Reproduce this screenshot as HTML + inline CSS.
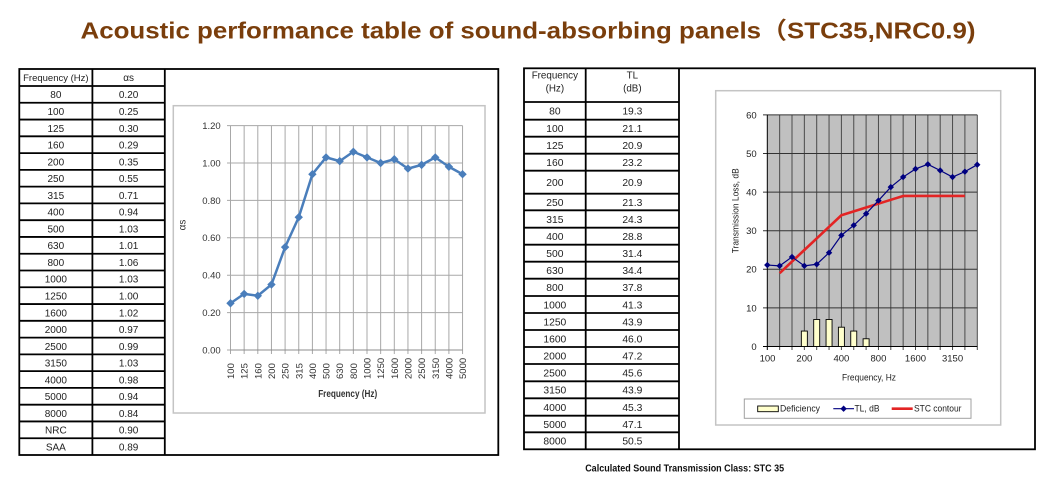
<!DOCTYPE html>
<html><head><meta charset="utf-8"><style>html,body{margin:0;padding:0;background:#fff}svg{display:block}</style></head>
<body>
<svg width="1058" height="483" viewBox="0 0 1058 483" xmlns="http://www.w3.org/2000/svg" font-family="'Liberation Sans','Noto Sans CJK SC',sans-serif">
<defs>
<marker id="d1" viewBox="-5 -5 10 10" markerWidth="10" markerHeight="10" refX="0" refY="0" markerUnits="userSpaceOnUse"><path d="M0,-4.2 L4.2,0 0,4.2 -4.2,0Z" fill="#4a7ebb"/></marker>
<marker id="d2" viewBox="-4 -4 8 8" markerWidth="8" markerHeight="8" refX="0" refY="0" markerUnits="userSpaceOnUse"><path d="M0,-3.2 L3.2,0 0,3.2 -3.2,0Z" fill="#000080"/></marker>
</defs>
<rect width="1058" height="483" fill="#fff"/>
<text x="80.5" y="38.3" font-size="23.5" font-weight="bold" fill="#7a3e0c" textLength="895" lengthAdjust="spacingAndGlyphs">Acoustic performance table of sound-absorbing panels（STC35,NRC0.9)</text>

<!-- LEFT TABLE -->
<g stroke="#000" stroke-width="1.8" fill="none">
<rect x="19.3" y="69" width="479" height="386"/>
<line x1="92.4" y1="69" x2="92.4" y2="455"/>
<line x1="164.8" y1="69" x2="164.8" y2="455"/>
<path d="M19.3 86H164.8M19.3 102.77H164.8M19.3 119.55H164.8M19.3 136.32H164.8M19.3 153.09H164.8M19.3 169.86H164.8M19.3 186.64H164.8M19.3 203.41H164.8M19.3 220.18H164.8M19.3 236.95H164.8M19.3 253.73H164.8M19.3 270.5H164.8M19.3 287.27H164.8M19.3 304.05H164.8M19.3 320.82H164.8M19.3 337.59H164.8M19.3 354.36H164.8M19.3 371.14H164.8M19.3 387.91H164.8M19.3 404.68H164.8M19.3 421.45H164.8M19.3 438.23H164.8"/>
</g>
<g font-size="10" fill="#222" text-anchor="middle">
<text x="55.85" y="81.1" font-size="9.5">Frequency (Hz)</text><text x="128.6" y="81.1">αs</text>
<text x="55.85" y="98.2">80</text><text x="128.6" y="98.2">0.20</text>
<text x="55.85" y="114.97">100</text><text x="128.6" y="114.97">0.25</text>
<text x="55.85" y="131.75">125</text><text x="128.6" y="131.75">0.30</text>
<text x="55.85" y="148.52">160</text><text x="128.6" y="148.52">0.29</text>
<text x="55.85" y="165.29">200</text><text x="128.6" y="165.29">0.35</text>
<text x="55.85" y="182.06">250</text><text x="128.6" y="182.06">0.55</text>
<text x="55.85" y="198.84">315</text><text x="128.6" y="198.84">0.71</text>
<text x="55.85" y="215.61">400</text><text x="128.6" y="215.61">0.94</text>
<text x="55.85" y="232.38">500</text><text x="128.6" y="232.38">1.03</text>
<text x="55.85" y="249.15">630</text><text x="128.6" y="249.15">1.01</text>
<text x="55.85" y="265.93">800</text><text x="128.6" y="265.93">1.06</text>
<text x="55.85" y="282.7">1000</text><text x="128.6" y="282.7">1.03</text>
<text x="55.85" y="299.47">1250</text><text x="128.6" y="299.47">1.00</text>
<text x="55.85" y="316.25">1600</text><text x="128.6" y="316.25">1.02</text>
<text x="55.85" y="333.02">2000</text><text x="128.6" y="333.02">0.97</text>
<text x="55.85" y="349.79">2500</text><text x="128.6" y="349.79">0.99</text>
<text x="55.85" y="366.56">3150</text><text x="128.6" y="366.56">1.03</text>
<text x="55.85" y="383.34">4000</text><text x="128.6" y="383.34">0.98</text>
<text x="55.85" y="400.11">5000</text><text x="128.6" y="400.11">0.94</text>
<text x="55.85" y="416.88">8000</text><text x="128.6" y="416.88">0.84</text>
<text x="55.85" y="433.65">NRC</text><text x="128.6" y="433.65">0.90</text>
<text x="55.85" y="450.43">SAA</text><text x="128.6" y="450.43">0.89</text>
</g>

<!-- LEFT CHART -->
<rect x="173.3" y="105.7" width="311.7" height="307.3" fill="#fff" stroke="#c4c4c4" stroke-width="1.5"/>
<g stroke="#a8a8a8" stroke-width="1" fill="none">
<path d="M230.5 125.6H462.55M230.5 163H462.55M230.5 200.4H462.55M230.5 237.8H462.55M230.5 275.2H462.55M230.5 312.6H462.55M227 125.6H230.5M227 163H230.5M227 200.4H230.5M227 237.8H230.5M227 275.2H230.5M227 312.6H230.5M227 350H230.5"/>
<path d="M230.5 125.6V354M244.15 125.6V354M257.8 125.6V354M271.45 125.6V354M285.1 125.6V354M298.75 125.6V354M312.4 125.6V354M326.05 125.6V354M339.7 125.6V354M353.35 125.6V354M367 125.6V354M380.65 125.6V354M394.3 125.6V354M407.95 125.6V354M421.6 125.6V354M435.25 125.6V354M448.9 125.6V354M462.55 125.6V354"/>
<path d="M230.5 350H462.55" stroke="#8c8c8c"/>
</g>
<g font-size="9.5" fill="#333" text-anchor="end">
<text x="220.7" y="129">1.20</text>
<text x="220.7" y="166.4">1.00</text>
<text x="220.7" y="203.8">0.80</text>
<text x="220.7" y="241.2">0.60</text>
<text x="220.7" y="278.6">0.40</text>
<text x="220.7" y="316">0.20</text>
<text x="220.7" y="353.4">0.00</text>
</g>
<g font-size="9.5" fill="#333">
<text transform="translate(234,379) rotate(-90)">100</text>
<text transform="translate(247.65,379) rotate(-90)">125</text>
<text transform="translate(261.3,379) rotate(-90)">160</text>
<text transform="translate(274.95,379) rotate(-90)">200</text>
<text transform="translate(288.6,379) rotate(-90)">250</text>
<text transform="translate(302.25,379) rotate(-90)">315</text>
<text transform="translate(315.9,379) rotate(-90)">400</text>
<text transform="translate(329.55,379) rotate(-90)">500</text>
<text transform="translate(343.2,379) rotate(-90)">630</text>
<text transform="translate(356.85,379) rotate(-90)">800</text>
<text transform="translate(370.5,379) rotate(-90)">1000</text>
<text transform="translate(384.15,379) rotate(-90)">1250</text>
<text transform="translate(397.8,379) rotate(-90)">1600</text>
<text transform="translate(411.45,379) rotate(-90)">2000</text>
<text transform="translate(425.1,379) rotate(-90)">2500</text>
<text transform="translate(438.75,379) rotate(-90)">3150</text>
<text transform="translate(452.4,379) rotate(-90)">4000</text>
<text transform="translate(466.05,379) rotate(-90)">5000</text>
</g>
<text x="347.7" y="397" font-size="10" font-weight="bold" fill="#333" text-anchor="middle" textLength="59" lengthAdjust="spacingAndGlyphs">Frequency (Hz)</text>
<text transform="translate(185.5,225) rotate(-90)" font-size="10" fill="#333" text-anchor="middle">αs</text>
<polyline fill="none" stroke="#4a7ebb" stroke-width="2.5" stroke-linejoin="round" marker-start="url(#d1)" marker-mid="url(#d1)" marker-end="url(#d1)" points="230.5,303.25 244.15,293.9 257.8,295.77 271.45,284.55 285.1,247.15 298.75,217.23 312.4,174.22 326.05,157.39 339.7,161.13 353.35,151.78 367,157.39 380.65,163 394.3,159.26 407.95,168.61 421.6,164.87 435.25,157.39 448.9,166.74 462.55,174.22"/>

<!-- RIGHT TABLE -->
<g stroke="#000" stroke-width="1.8" fill="none">
<rect x="524" y="68.3" width="511" height="381"/>
<line x1="585.7" y1="68.3" x2="585.7" y2="449.3"/>
<line x1="679" y1="68.3" x2="679" y2="449.3"/>
<path d="M524 102H679M524 119.7H679M524 136.7H679M524 153.7H679M524 170.7H679M524 193.7H679M524 210.3H679M524 227.7H679M524 244.7H679M524 261.7H679M524 278.7H679M524 296H679M524 313H679M524 330H679M524 347H679M524 364H679M524 381.3H679M524 398.3H679M524 415.7H679M524 432.3H679"/>
</g>
<g font-size="10.3" fill="#222" text-anchor="middle">
<text x="554.85" y="78.5" font-size="9.8">Frequency</text><text x="554.85" y="91.7" font-size="9.8">(Hz)</text>
<text x="632.35" y="78.5" font-size="9.8">TL</text><text x="632.35" y="91.7" font-size="9.8">(dB)</text>
<text x="554.85" y="114.65">80</text><text x="632.35" y="114.65">19.3</text>
<text x="554.85" y="132">100</text><text x="632.35" y="132">21.1</text>
<text x="554.85" y="149">125</text><text x="632.35" y="149">20.9</text>
<text x="554.85" y="166">160</text><text x="632.35" y="166">23.2</text>
<text x="554.85" y="186">200</text><text x="632.35" y="186">20.9</text>
<text x="554.85" y="205.8">250</text><text x="632.35" y="205.8">21.3</text>
<text x="554.85" y="222.8">315</text><text x="632.35" y="222.8">24.3</text>
<text x="554.85" y="240">400</text><text x="632.35" y="240">28.8</text>
<text x="554.85" y="257">500</text><text x="632.35" y="257">31.4</text>
<text x="554.85" y="274">630</text><text x="632.35" y="274">34.4</text>
<text x="554.85" y="291.15">800</text><text x="632.35" y="291.15">37.8</text>
<text x="554.85" y="308.3">1000</text><text x="632.35" y="308.3">41.3</text>
<text x="554.85" y="325.3">1250</text><text x="632.35" y="325.3">43.9</text>
<text x="554.85" y="342.3">1600</text><text x="632.35" y="342.3">46.0</text>
<text x="554.85" y="359.3">2000</text><text x="632.35" y="359.3">47.2</text>
<text x="554.85" y="376.45">2500</text><text x="632.35" y="376.45">45.6</text>
<text x="554.85" y="393.6">3150</text><text x="632.35" y="393.6">43.9</text>
<text x="554.85" y="410.8">4000</text><text x="632.35" y="410.8">45.3</text>
<text x="554.85" y="427.8">5000</text><text x="632.35" y="427.8">47.1</text>
<text x="554.85" y="444.6">8000</text><text x="632.35" y="444.6">50.5</text>
</g>

<!-- RIGHT CHART -->
<rect x="715.7" y="90.7" width="285" height="334.3" fill="#fff" stroke="#c4c4c4" stroke-width="1.5"/>
<rect x="767.3" y="114.9" width="210" height="231.6" fill="#c0c0c0"/>
<g stroke="#4a4a4a" stroke-width="1" fill="none">
<path d="M779.65 114.9V350M792 114.9V350M804.35 114.9V350M816.7 114.9V350M829.05 114.9V350M841.4 114.9V350M853.75 114.9V350M866.1 114.9V350M878.45 114.9V350M890.8 114.9V350M903.15 114.9V350M915.5 114.9V350M927.85 114.9V350M940.2 114.9V350M952.55 114.9V350M964.9 114.9V350M977.3 114.9V350"/>
<path d="M763 114.9H977.3M763 153.5H977.3M763 192.1H977.3M763 230.7H977.3M763 269.3H977.3M763 307.9H977.3" stroke="#333"/>
<path d="M767.3 114.9V350M763 346.5H977.3" stroke="#000"/>
</g>
<g fill="#ffffcc" stroke="#000" stroke-width="0.9">
<rect x="801.35" y="331.06" width="6" height="15.44"/>
<rect x="813.7" y="319.48" width="6" height="27.02"/>
<rect x="826.05" y="319.48" width="6" height="27.02"/>
<rect x="838.4" y="327.2" width="6" height="19.3"/>
<rect x="850.75" y="331.06" width="6" height="15.44"/>
<rect x="863.1" y="338.78" width="6" height="7.72"/>
</g>
<polyline fill="none" stroke="#e32424" stroke-width="2.6" stroke-linejoin="round" points="779.65,273.16 792,261.58 804.35,250 816.7,238.42 829.05,226.84 841.4,215.26 853.75,211.4 866.1,207.54 878.45,203.68 890.8,199.82 903.15,195.96 915.5,195.96 927.85,195.96 940.2,195.96 952.55,195.96 964.9,195.96"/>
<polyline fill="none" stroke="#000080" stroke-width="1.2" marker-start="url(#d2)" marker-mid="url(#d2)" marker-end="url(#d2)" points="767.3,265.05 779.65,265.83 792,256.95 804.35,265.83 816.7,264.28 829.05,252.7 841.4,235.33 853.75,225.3 866.1,213.72 878.45,200.59 890.8,187.08 903.15,177.05 915.5,168.94 927.85,164.31 940.2,170.48 952.55,177.05 964.9,171.64 977.25,164.69"/>
<g font-size="9.5" fill="#222" text-anchor="end">
<text x="756.7" y="118.3">60</text>
<text x="756.7" y="156.9">50</text>
<text x="756.7" y="195.5">40</text>
<text x="756.7" y="234.1">30</text>
<text x="756.7" y="272.7">20</text>
<text x="756.7" y="311.3">10</text>
<text x="756.7" y="349.9">0</text>
</g>
<g font-size="9.5" fill="#222" text-anchor="middle">
<text x="767.5" y="361.7">100</text>
<text x="804.35" y="361.7">200</text>
<text x="841.4" y="361.7">400</text>
<text x="878.45" y="361.7">800</text>
<text x="915.5" y="361.7">1600</text>
<text x="952.55" y="361.7">3150</text>
<text x="869" y="380.7" textLength="54" lengthAdjust="spacingAndGlyphs">Frequency, Hz</text>
</g>
<text transform="translate(738.5,210.8) rotate(-90)" font-size="9.3" fill="#222" text-anchor="middle" textLength="85" lengthAdjust="spacingAndGlyphs">Transmission Loss, dB</text>
<rect x="744.3" y="399" width="226.7" height="19.3" fill="#fff" stroke="#a0a0a0" stroke-width="1"/>
<rect x="757.7" y="406" width="20.6" height="5.7" fill="#ffffcc" stroke="#000" stroke-width="0.9"/>
<line x1="833.3" y1="408.7" x2="854" y2="408.7" stroke="#000080" stroke-width="1.2"/>
<path d="M843.6,405.5 L846.8,408.7 843.6,411.9 840.4,408.7Z" fill="#000080"/>
<line x1="891.7" y1="408.7" x2="912.7" y2="408.7" stroke="#e32424" stroke-width="2.6"/>
<g font-size="9.5" fill="#222">
<text x="780" y="411.7" textLength="40" lengthAdjust="spacingAndGlyphs">Deficiency</text>
<text x="854.5" y="411.7" textLength="25" lengthAdjust="spacingAndGlyphs">TL, dB</text>
<text x="914" y="411.7" textLength="47.5" lengthAdjust="spacingAndGlyphs">STC contour</text>
</g>
<text x="585.2" y="471.7" font-size="10" font-weight="bold" fill="#111" textLength="199" lengthAdjust="spacingAndGlyphs">Calculated Sound Transmission Class:  STC 35</text>
</svg>
</body></html>
